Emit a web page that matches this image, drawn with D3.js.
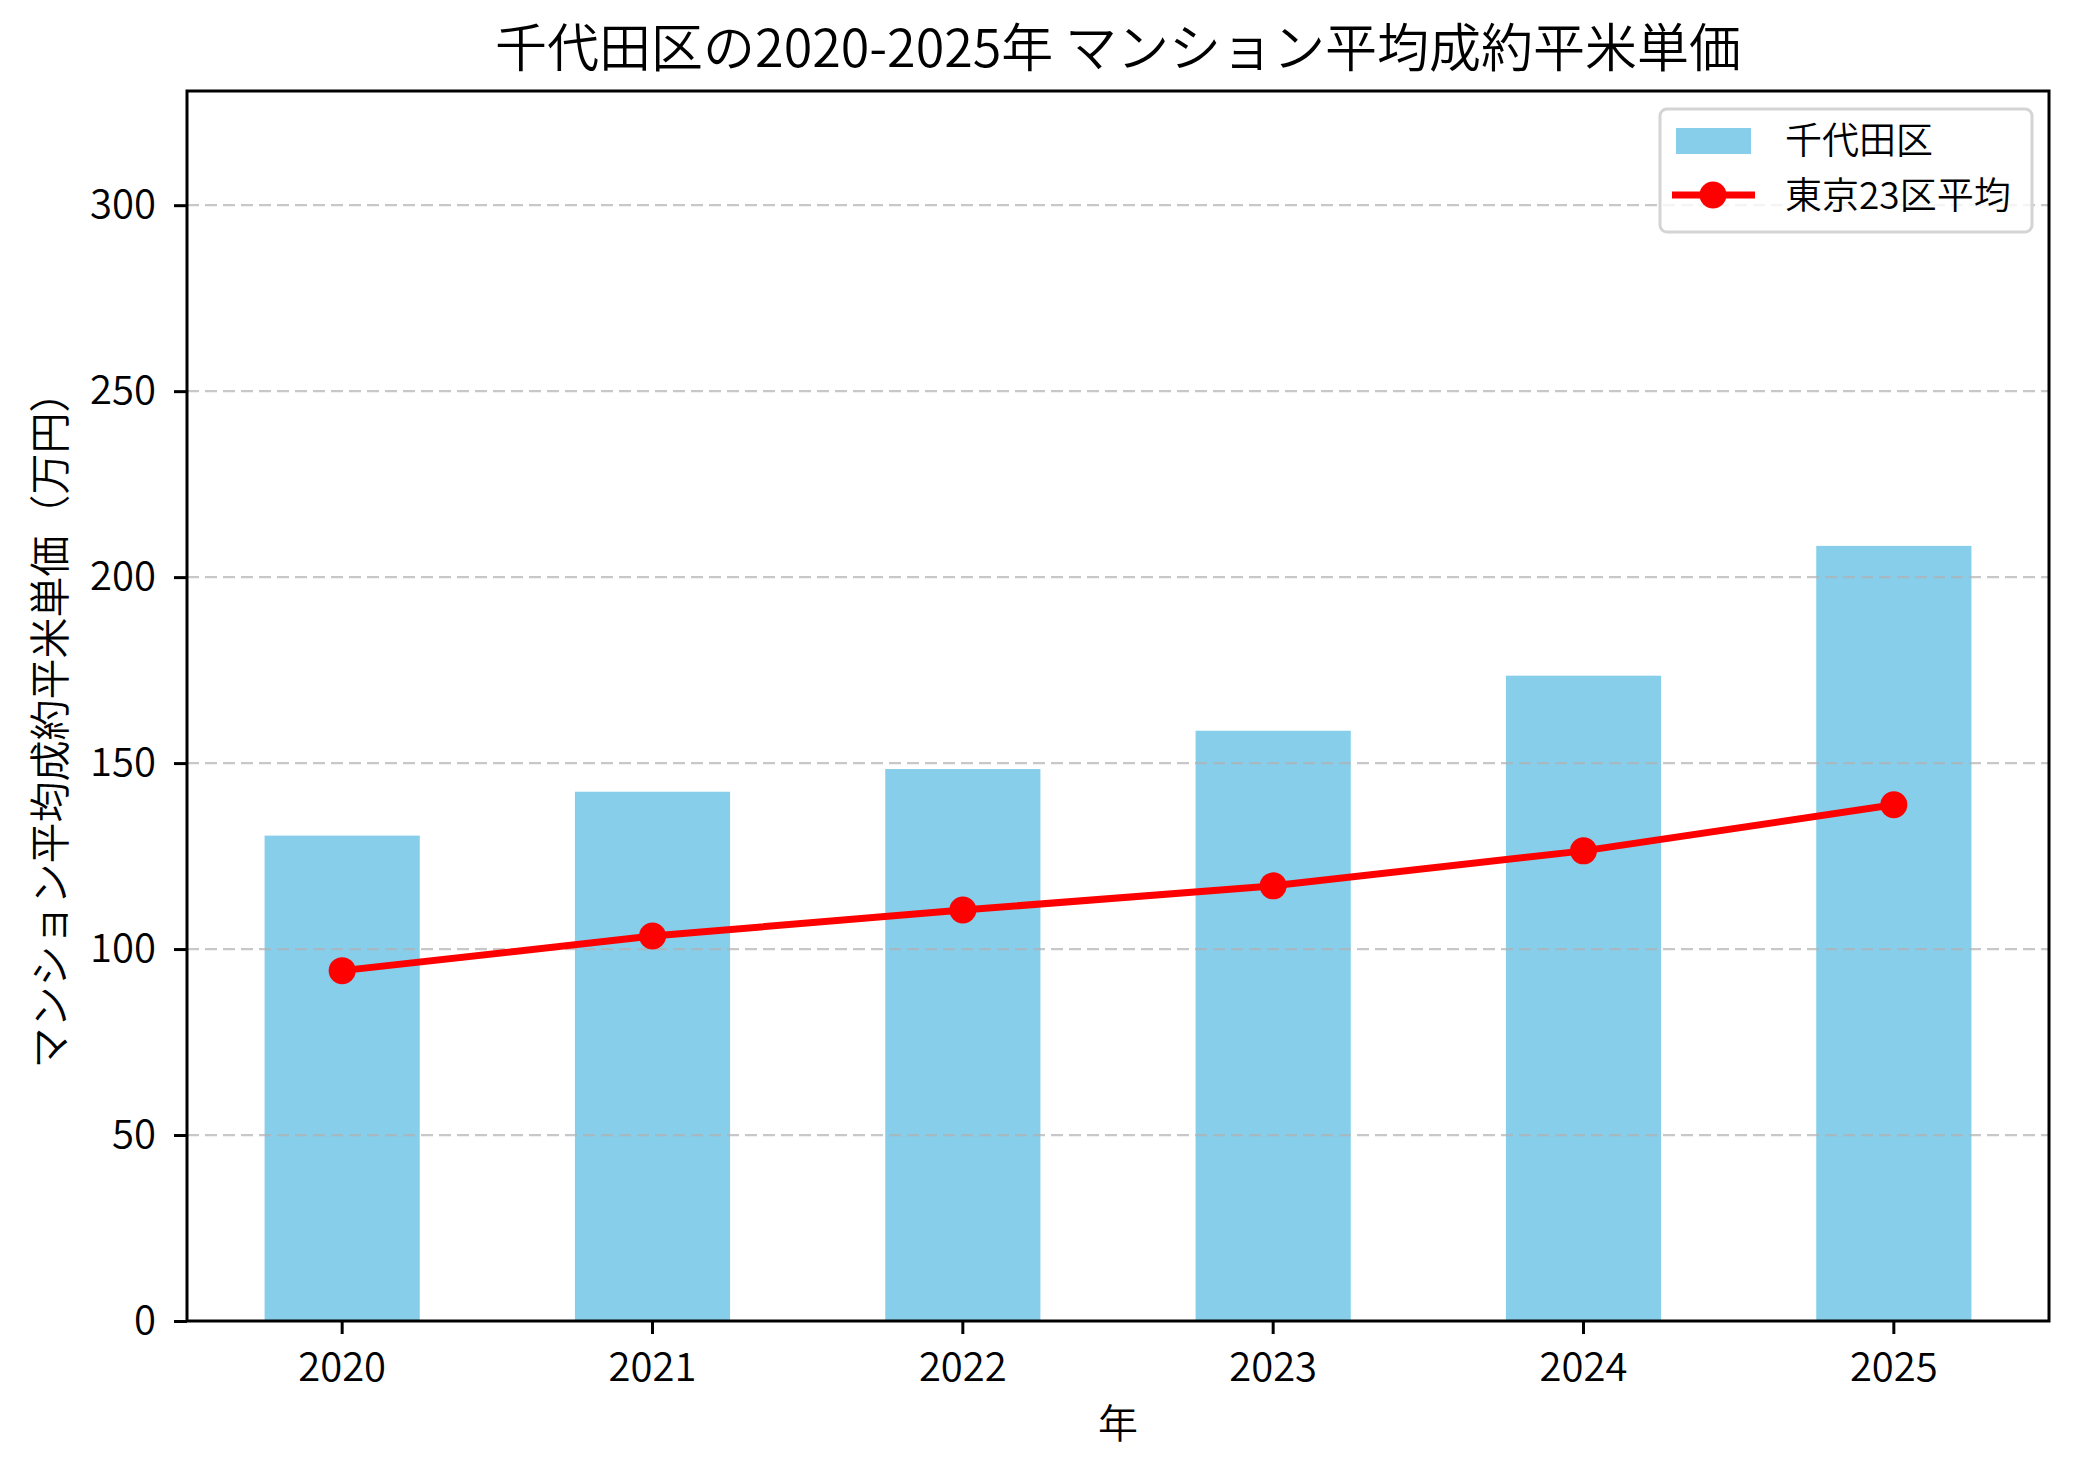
<!DOCTYPE html>
<html>
<head>
<meta charset="utf-8">
<script src="https://cdn.jsdelivr.net/npm/d3@7"></script>
<style>
body { margin: 0; background: #fff; }
svg text { font-family: "Noto Sans CJK JP", "Noto Sans", sans-serif; font-weight: 350; fill: #000; }
</style>
</head>
<body>
<svg id="chart" width="2079" height="1474"></svg>
<script>
// data
var years = ["2020", "2021", "2022", "2023", "2024", "2025"];
var chiyoda = [130.5, 142.3, 148.4, 158.7, 173.5, 208.4];
var tokyo23 = [94.2, 103.5, 110.5, 117.0, 126.4, 138.8];
var yTicks = [0, 50, 100, 150, 200, 250, 300];

var svg = d3.select("#chart");
// plot box (window.top is taken, so the names are spelled out)
var plotLeft = 187, plotRight = 2049, plotTop = 91, plotBottom = 1321;

var x = d3.scaleBand().domain(years).range([plotLeft, plotRight])
	.paddingInner(0.5).paddingOuter(0.25);
var y = d3.scaleLinear().domain([0, 330.7]).range([plotBottom, plotTop]);

// bars
svg.append("g").selectAll("rect").data(years).enter()
	.append("rect")
	.attr("x", function(d){ return x(d); })
	.attr("width", x.bandwidth())
	.attr("y", function(d, i){ return y(chiyoda[i]); })
	.attr("height", function(d, i){ return y(0) - y(chiyoda[i]); })
	.attr("fill", "#87ceeb");

// grid goes over the bars like matplotlib does
svg.append("g").selectAll("line").data(yTicks.slice(1)).enter()
	.append("line")
	.attr("x1", plotLeft).attr("x2", plotRight)
	.attr("y1", function(d){ return y(d); })
	.attr("y2", function(d){ return y(d); })
	.attr("stroke", "#b0b0b0")
	.attr("stroke-opacity", 0.7)
	.attr("stroke-width", 2.2)
	.attr("stroke-dasharray", "12,6");

// 23-ku average line
var cx = function(d, i){ return x(years[i]) + x.bandwidth() / 2; };
var line = d3.line().x(cx).y(function(d){ return y(d); });
svg.append("path").datum(tokyo23)
	.attr("d", line)
	.attr("fill", "none")
	.attr("stroke", "#ff0000")
	.attr("stroke-width", 7);
svg.append("g").selectAll("circle").data(tokyo23).enter()
	.append("circle")
	.attr("cx", cx)
	.attr("cy", function(d){ return y(d); })
	.attr("r", 13.5)
	.attr("fill", "#ff0000");

// axes
var xAxis = svg.append("g")
	.attr("transform", "translate(0," + plotBottom + ")")
	.call(d3.axisBottom(x).tickSize(13).tickPadding(19));
var yAxis = svg.append("g")
	.attr("transform", "translate(" + plotLeft + ",0)")
	.call(d3.axisLeft(y).tickValues(yTicks).tickSize(13).tickPadding(18));
[xAxis, yAxis].forEach(function(a){
	a.select(".domain").remove();
	a.selectAll(".tick line").attr("stroke", "#000").attr("stroke-width", 3);
	a.selectAll(".tick text").style("font-size", "40px").attr("fill", "#000");
});

// frame
svg.append("rect")
	.attr("x", plotLeft).attr("y", plotTop)
	.attr("width", plotRight - plotLeft).attr("height", plotBottom - plotTop)
	.attr("fill", "none").attr("stroke", "#000").attr("stroke-width", 3);

// title and labels
svg.append("text")
	.attr("x", (plotLeft + plotRight) / 2).attr("y", 67)
	.attr("text-anchor", "middle")
	.style("font-size", "52px")
	.text("千代田区の2020-2025年 マンション平均成約平米単価");
svg.append("text")
	.attr("x", (plotLeft + plotRight) / 2).attr("y", 1438)
	.attr("text-anchor", "middle")
	.style("font-size", "40px")
	.text("年");
svg.append("text")
	.attr("transform", "translate(65," + ((plotTop + plotBottom) / 2 + 14) + ") rotate(-90)")
	.attr("text-anchor", "middle")
	.style("font-size", "41px")
	.text("マンション平均成約平米単価（万円）");

// legend
var lg = svg.append("g");
lg.append("rect")
	.attr("x", 1660).attr("y", 109).attr("width", 372).attr("height", 123)
	.attr("rx", 7)
	.attr("fill", "#fff").attr("fill-opacity", 0.8)
	.attr("stroke", "#d4d4d4").attr("stroke-width", 3);
lg.append("rect")
	.attr("x", 1676).attr("y", 128).attr("width", 75).attr("height", 26)
	.attr("fill", "#87ceeb");
lg.append("line")
	.attr("x1", 1672).attr("x2", 1755).attr("y1", 195).attr("y2", 195)
	.attr("stroke", "#ff0000").attr("stroke-width", 7);
lg.append("circle")
	.attr("cx", 1713).attr("cy", 195).attr("r", 13.5).attr("fill", "#ff0000");
lg.append("text").attr("x", 1785).attr("y", 154)
	.style("font-size", "37px").text("千代田区");
lg.append("text").attr("x", 1785).attr("y", 209)
	.style("font-size", "37px").text("東京23区平均");
</script>
</body>
</html>
